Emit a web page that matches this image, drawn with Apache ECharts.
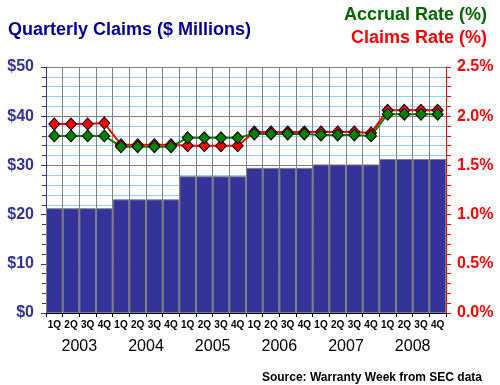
<!DOCTYPE html>
<html>
<head>
<meta charset="utf-8">
<script src="https://cdn.jsdelivr.net/npm/echarts@6/dist/echarts.min.js"></script>
<style>
html,body{margin:0;padding:0;background:#fff;}
#chart{width:500px;height:385px;}
</style>
</head>
<body>
<div id="chart"></div>
<script>
var quarters = ['1Q','2Q','3Q','4Q','1Q','2Q','3Q','4Q','1Q','2Q','3Q','4Q','1Q','2Q','3Q','4Q','1Q','2Q','3Q','4Q','1Q','2Q','3Q','4Q'];
var years = ['2003','2004','2005','2006','2007','2008'];
var claims = [21.3,21.3,21.3,21.3, 23.1,23.1,23.1,23.1, 27.8,27.8,27.8,27.8, 29.5,29.5,29.5,29.5, 30.2,30.2,30.2,30.2, 31.3,31.3,31.3,31.3];
var claimsRate = [1.92,1.92,1.92,1.93, 1.71,1.71,1.71,1.71, 1.70,1.70,1.70,1.70, 1.84,1.84,1.84,1.84, 1.84,1.84,1.84,1.83, 2.06,2.06,2.06,2.06];
var accrualRate = [1.80,1.80,1.80,1.80, 1.69,1.69,1.69,1.69, 1.78,1.78,1.78,1.78, 1.82,1.82,1.82,1.82, 1.81,1.81,1.81,1.80, 2.02,2.02,2.02,2.02];
var leftTicks = {min:0, max:50, interval:10};
var rightTicks = {min:0, max:2.5, interval:0.5};

var chart = echarts.init(document.getElementById('chart'), null, {renderer:'canvas'});
var ff = 'Arial, "Liberation Sans", sans-serif';
chart.setOption({
  animation:false,
  backgroundColor:'#ffffff',
  title:[
    {text:'Quarterly Claims ($ Millions)', left:3, top:16, textStyle:{fontFamily:ff, fontSize:18, fontWeight:'bold', color:'#000099'}},
    {text:'Accrual Rate (%)', right:8, top:1, textStyle:{fontFamily:ff, fontSize:18, fontWeight:'bold', color:'#006600'}},
    {text:'Claims Rate (%)', right:8, top:24, textStyle:{fontFamily:ff, fontSize:18, fontWeight:'bold', color:'#ff0000'}},
    {text:'Source: Warranty Week from SEC data', right:13, top:367, textStyle:{fontFamily:ff, fontSize:12, fontWeight:'bold', color:'#000000'}}
  ],
  grid:{left:46, right:54, top:67, bottom:72, containLabel:false},
  xAxis:[
    {type:'category', data:quarters, boundaryGap:true,
     axisLine:{show:true, lineStyle:{color:'#000000', width:1}},
     axisTick:{show:true, interval:0, length:4, lineStyle:{color:'#000000'}},
     axisLabel:{interval:0, margin:7, fontFamily:ff, fontSize:10, fontWeight:'bold', color:'#000000'},
     splitLine:{show:true, interval:0, lineStyle:{color:'#808080', width:1}}},
    {type:'category', data:years, position:'bottom', boundaryGap:true,
     axisLine:{show:false}, axisTick:{show:false}, splitLine:{show:false},
     axisLabel:{interval:0, margin:26, fontFamily:ff, fontSize:16, color:'#000000'}}
  ],
  yAxis:[
    {type:'value', min:leftTicks.min, max:leftTicks.max, interval:leftTicks.interval, position:'left',
     axisLine:{show:true, lineStyle:{color:'#333399', width:1}},
     axisTick:{show:true, length:5, lineStyle:{color:'#333399'}},
     minorTick:{show:true, splitNumber:5, length:4, lineStyle:{color:'#333399'}},
     axisLabel:{margin:12, fontFamily:ff, fontSize:16, fontWeight:'bold', color:'#333399', formatter:function(v){return '$'+v;}},
     splitLine:{show:true, lineStyle:{color:'#808080', width:1}},
     minorSplitLine:{show:true, lineStyle:{color:'#99ccff', width:1}}},
    {type:'value', min:rightTicks.min, max:rightTicks.max, interval:rightTicks.interval, position:'right',
     axisLine:{show:true, lineStyle:{color:'#ff0000', width:1}},
     axisTick:{show:true, length:5, lineStyle:{color:'#ff0000'}},
     minorTick:{show:true, splitNumber:5, length:5, lineStyle:{color:'#ff0000'}},
     axisLabel:{margin:11, fontFamily:ff, fontSize:16, fontWeight:'bold', color:'#ff0000', formatter:function(v){return v.toFixed(1)+'%';}},
     splitLine:{show:false}, minorSplitLine:{show:false}}
  ],
  series:[
    {type:'bar', name:'Quarterly Claims', data:claims, xAxisIndex:0, yAxisIndex:0, barCategoryGap:'0%',
     itemStyle:{color:'#333399', borderColor:'#808080', borderWidth:1}},
    {type:'line', name:'Claims Rate', data:claimsRate, xAxisIndex:0, yAxisIndex:1,
     symbol:'diamond', symbolSize:[11,12], showAllSymbol:true,
     lineStyle:{color:'#ff0000', width:2},
     itemStyle:{color:'#ff0000', borderColor:'#000000', borderWidth:1}},
    {type:'line', name:'Accrual Rate', data:accrualRate, xAxisIndex:0, yAxisIndex:1,
     symbol:'diamond', symbolSize:[11,12], showAllSymbol:true,
     lineStyle:{color:'#008000', width:2},
     itemStyle:{color:'#008000', borderColor:'#000000', borderWidth:1}}
  ]
});
</script>
</body>
</html>
